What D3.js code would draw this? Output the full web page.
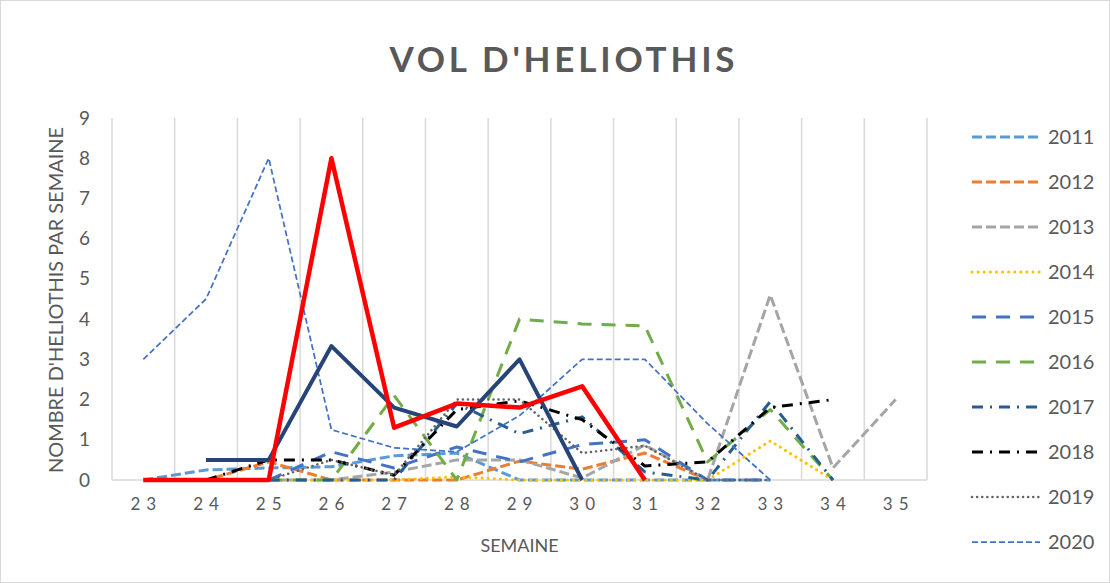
<!DOCTYPE html>
<html>
<head>
<meta charset="utf-8">
<script src="https://cdn.jsdelivr.net/npm/d3@7"></script>
<style>
  body { margin: 0; background: #fff; }
  text { font-family: Lato, "Open Sans", sans-serif; fill: #595959; }
</style>
</head>
<body>
<div id="chart"></div>
<script>
// Weeks (x categories)
var weeks = [23, 24, 25, 26, 27, 28, 29, 30, 31, 32, 33, 34, 35];
var yTicks = [0, 1, 2, 3, 4, 5, 6, 7, 8, 9];

// Series values, one per week (null = no data)
var s2011 = [0, 0.25, 0.3, 0.33, 0.6, 0.67, 0, 0, 0, 0, 0, null, null];
var s2012 = [0, 0, 0.45, 0, 0, 0, 0.47, 0.27, 0.67, 0, null, null, null];
var s2013 = [null, null, 0, 0, 0.2, 0.5, 0.5, 0.05, 0.87, 0, 4.6, 0.3, 2];
var s2014 = [null, null, 0, 0, 0, 0.08, 0, 0, 0, 0, 0.97, 0, null];
var s2015 = [null, null, 0, 0.7, 0.3, 0.82, 0.45, 0.88, 1, 0, 0, null, null];
var s2016 = [null, null, 0, 0, 2.1, 0, 4, 3.88, 3.83, 0.45, 1.75, 0, null];
var s2017 = [null, null, 0, 0, 0, 1.9, 1.15, 1.57, 0.2, 0, 1.95, 0, null];
var s2018 = [null, 0, 0.5, 0.5, 0.12, 1.75, 1.97, 1.5, 0.35, 0.45, 1.8, 2, null];
var s2019 = [null, null, 0, 0.5, 0.12, 2, 2, 0.67, 0.85, 0, 0, null, null];
var s2020 = [3, 4.5, 8, 1.25, 0.8, 0.7, 1.6, 3, 3, 1.4, 0, null, null];
var s2021 = [null, 0.5, 0.5, 3.33, 1.8, 1.33, 3, 0, null, null, null, null, null];
var s2022 = [0, 0, 0, 8, 1.3, 1.9, 1.8, 2.33, 0, null, null, null, null];

var seriesNames = ["2011", "2012", "2013", "2014", "2015", "2016", "2017", "2018", "2019", "2020", "2021", "2022"];
var seriesValues = [s2011, s2012, s2013, s2014, s2015, s2016, s2017, s2018, s2019, s2020, s2021, s2022];

// line styles (colour, width, dash, cap)
var styles = [
  {c: "#5B9BD5", w: 3, d: "10 4", cap: "butt"},
  {c: "#ED7D31", w: 3, d: "10 4", cap: "butt"},
  {c: "#A5A5A5", w: 3, d: "10 4", cap: "butt"},
  {c: "#FFC000", w: 3, d: "0.1 6", cap: "round"},
  {c: "#4472C4", w: 3, d: "14 10", cap: "butt"},
  {c: "#70AD47", w: 3, d: "14 10", cap: "butt"},
  {c: "#255E91", w: 3, d: "11 7 2 7", cap: "butt"},
  {c: "#000000", w: 3, d: "11 7 2 7", cap: "butt"},
  {c: "#636363", w: 2.5, d: "0.1 5", cap: "round"},
  {c: "#4472C4", w: 1.75, d: "6 3", cap: "butt"},
  {c: "#264478", w: 4, d: null, cap: "butt"},
  {c: "#FF0000", w: 4.5, d: null, cap: "butt"}
];

var svgWidth = 1110;
var svgHeight = 583;

var margin = {top: 118, right: 183, bottom: 103, left: 112};
var width = svgWidth - margin.left - margin.right;
var height = svgHeight - margin.top - margin.bottom;

var svg = d3.select("#chart")
    .append("svg")
        .attr("width", svgWidth)
        .attr("height", svgHeight);

// outer chart border
svg.append("rect")
    .attr("x", 0.5).attr("y", 0.5)
    .attr("width", svgWidth - 1).attr("height", svgHeight - 1)
    .attr("fill", "#fff")
    .attr("stroke", "#D9D9D9");

var g = svg.append("g")
    .attr("transform", `translate(${margin.left}, ${margin.top})`);

var xBand = d3.scaleBand()
    .domain(weeks)
    .range([0, width]);

var yScale = d3.scaleLinear()
    .domain([0, 9])
    .range([height, 0]);

// vertical gridlines at category boundaries
var bounds = weeks.map(w => xBand(w)).concat([width]);
g.selectAll("line.grid")
    .data(bounds)
    .enter()
    .append("line")
        .attr("class", "grid")
        .attr("x1", d => d).attr("x2", d => d)
        .attr("y1", 0).attr("y2", height)
        .attr("stroke", "#D9D9D9")
        .attr("stroke-width", 1.5);

// x axis line
g.append("line")
    .attr("x1", 0).attr("x2", width)
    .attr("y1", height).attr("y2", height)
    .attr("stroke", "#D9D9D9")
    .attr("stroke-width", 1.5);

// y tick labels
var yAxis = g.append("g")
    .call(d3.axisLeft(yScale).tickValues(yTicks).tickSize(0).tickPadding(22));
yAxis.select(".domain").remove();
yAxis.selectAll("text")
    .style("font-size", "19px")
    .style("fill", "#595959");

// x tick labels (spread out digits)
var xAxis = g.append("g")
    .attr("transform", `translate(0, ${height})`)
    .call(d3.axisBottom(xBand).tickSize(0).tickPadding(18));
xAxis.select(".domain").remove();
xAxis.selectAll("text")
    .style("font-size", "17px")
    .style("letter-spacing", "6px")
    .attr("dx", "3px")
    .style("fill", "#595959");

// lines
var line = d3.line()
    .defined(d => d.v != null)
    .x(d => xBand(d.w) + xBand.bandwidth() / 2)
    .y(d => yScale(d.v));

seriesValues.forEach(function(vals, i) {
    var pts = weeks.map((w, j) => ({w: w, v: vals[j]}));
    var st = styles[i];
    g.append("path")
        .datum(pts)
        .attr("d", line)
        .attr("fill", "none")
        .attr("stroke", st.c)
        .attr("stroke-width", st.w)
        .attr("stroke-dasharray", st.d)
        .attr("stroke-linecap", st.cap)
        .attr("stroke-linejoin", "round");
});

// title
svg.append("text")
    .attr("x", 562)
    .attr("y", 72)
    .attr("text-anchor", "middle")
    .attr("textLength", 345)
    .attr("lengthAdjust", "spacing")
    .style("font-size", "35px")
    .style("font-weight", "bold")
    .style("fill", "#595959")
    .text("VOL D'HELIOTHIS");

// axis titles
svg.append("text")
    .attr("x", margin.left + width / 2)
    .attr("y", 552)
    .attr("text-anchor", "middle")
    .style("font-size", "18px")
    .text("SEMAINE");

svg.append("text")
    .attr("transform", "translate(63, 300) rotate(-90)")
    .attr("text-anchor", "middle")
    .attr("textLength", 346)
    .attr("lengthAdjust", "spacingAndGlyphs")
    .style("font-size", "19px")
    .text("NOMBRE D'HELIOTHIS PAR SEMAINE");

// legend: only the rows that fit inside the frame are shown (as in the original)
var legendTop = 137;
var legendStep = 45;
var shown = seriesNames.filter((d, i) => legendTop + i * legendStep < svgHeight - 25);

var legend = svg.append("g")
    .attr("transform", `translate(972, ${legendTop})`);

var rows = legend.selectAll("g")
    .data(shown)
    .enter()
    .append("g")
        .attr("transform", (d, i) => `translate(0, ${i * legendStep})`);

rows.append("line")
    .attr("x1", 0).attr("x2", 68)
    .attr("y1", 0).attr("y2", 0)
    .attr("stroke", (d, i) => styles[i].c)
    .attr("stroke-width", (d, i) => styles[i].w)
    .attr("stroke-dasharray", (d, i) => styles[i].d)
    .attr("stroke-linecap", (d, i) => styles[i].cap);

rows.append("text")
    .attr("x", 76)
    .attr("y", 0)
    .attr("dy", "0.35em")
    .style("font-size", "20px")
    .text(d => d);
</script>
</body>
</html>
